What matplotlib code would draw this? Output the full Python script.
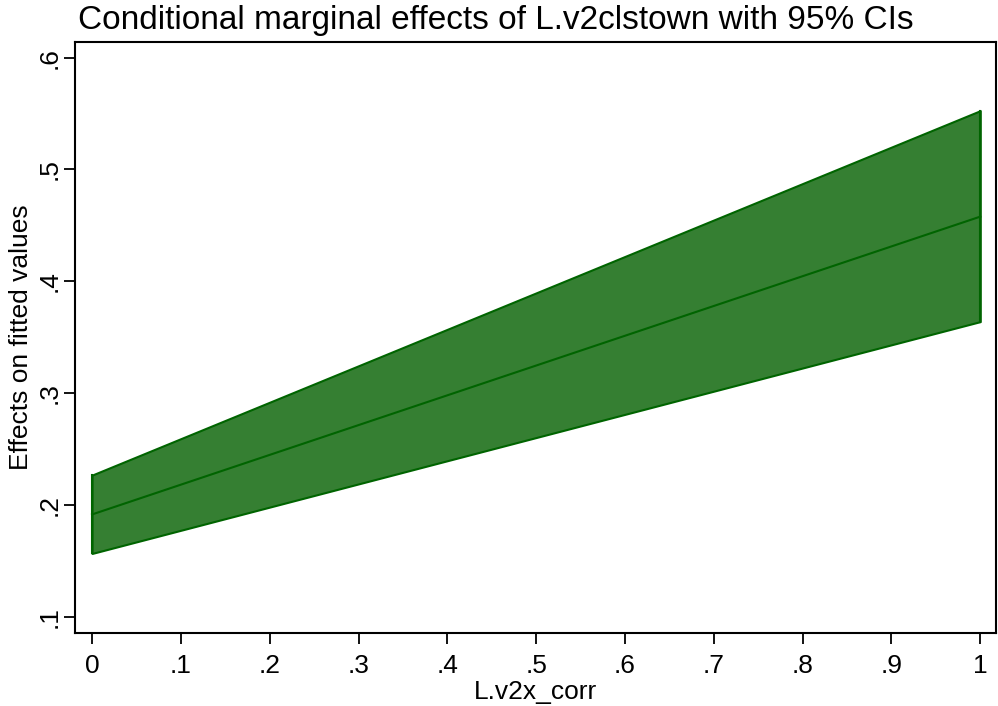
import matplotlib
matplotlib.use("Agg")
import matplotlib.pyplot as plt

plt.rcParams['font.family'] = ['Liberation Sans', 'DejaVu Sans']

# values
x_vals = [0, 1]
effect = [0.1914, 0.4578]
ci_low = [0.1565, 0.3639]
ci_high = [0.2266, 0.5526]

xticks = [0, .1, .2, .3, .4, .5, .6, .7, .8, .9, 1]
xlabels = ["0", ".1", ".2", ".3", ".4", ".5", ".6", ".7", ".8", ".9", "1"]
yticks = [.1, .2, .3, .4, .5, .6]
ylabels = [".1", ".2", ".3", ".4", ".5", ".6"]

fig = plt.figure(figsize=(9.98, 7.06), dpi=100)
ax = fig.add_axes([0.0755, 0.103, 0.9225, 0.8375])

ax.fill_between(x_vals, ci_low, ci_high, facecolor="#357f32", edgecolor="#006400", linewidth=1.5)
ax.plot([x_vals[0]] * 2, [ci_low[0], ci_high[0]], color="#006400", lw=1.5)
ax.plot([x_vals[-1]] * 2, [ci_low[-1], ci_high[-1]], color="#006400", lw=1.5)
ax.plot(x_vals, effect, color="#006400", lw=1.5)

ax.set_xlim(-0.0188, 1.0177)
ax.set_ylim(0.0851, 0.614)
ax.set_xticks(xticks)
ax.set_xticklabels(xlabels, fontsize=19)
ax.set_yticks(yticks)
ax.set_yticklabels(ylabels, fontsize=19, rotation=90, va="center")
ax.tick_params(length=8, width=1.3, color="black")
ax.tick_params(axis="x", pad=7)
ax.tick_params(axis="y", pad=2)
for s in ax.spines.values():
    s.set_linewidth(1.5)

ax.set_xlabel("L.v2x_corr", fontsize=19, labelpad=1)
ax.set_ylabel("Effects on fitted values", fontsize=19, labelpad=3)
fig.text(0.078, 0.9596, "Conditional marginal effects of L.v2clstown with 95% CIs",
         fontsize=24, ha="left", va="baseline")

fig.savefig("out.png", dpi=100)
